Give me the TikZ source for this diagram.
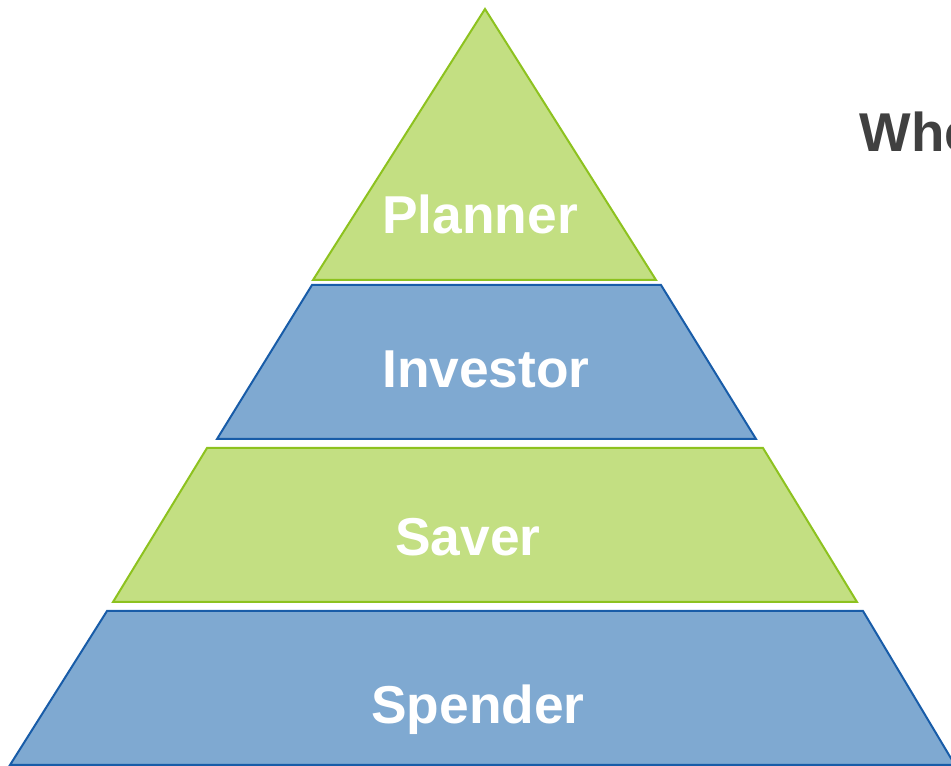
\documentclass[tikz,border=0pt]{standalone}
\usepackage{fontspec}
\setmainfont{Liberation Sans}

\tikzset{every picture/.style={line width=0.75pt}}
\tikzset{
  greenlayer/.style={draw={rgb, 255:red, 141; green, 194; blue, 31}, fill={rgb, 255:red, 195; green, 223; blue, 130}, line width=1.5},
  bluelayer/.style={draw={rgb, 255:red, 24; green, 92; blue, 168}, fill={rgb, 255:red, 127; green, 169; blue, 209}, line width=1.5},
  layertext/.style={anchor=base, inner sep=0.75pt, text=white, font=\fontsize{40}{48}\selectfont\bfseries}
}

\begin{document}
\begin{tikzpicture}[x=0.75pt,y=0.75pt,yscale=-1,xscale=1]
\clip (0,0) rectangle (951,766);

%Shape: Triangle [id:planner]
\draw [greenlayer]  (485,9) -- (656,280) -- (313,280) -- cycle ;
%Shape: Trapezoid [id:investor]
\draw [bluelayer]  (312,285) -- (661,285) -- (756,439) -- (217,439) -- cycle ;
%Shape: Trapezoid [id:saver]
\draw [greenlayer]  (207,448) -- (763,448) -- (857,602) -- (113,602) -- cycle ;
%Shape: Trapezoid [id:spender]
\draw [bluelayer]  (107,611) -- (863,611) -- (955,765) -- (10,765) -- cycle ;

% Text Node
\node (plannerlbl) [layertext] at (480,234) {Planner};
% Text Node
\node (investorlbl) [layertext] at (486,388) {Investor};
% Text Node
\node (saverlbl) [layertext] at (468,556) {Saver};
% Text Node
\node (spenderlbl) [layertext] at (478,724) {Spender};
% Text Node
\node (whelbl) [anchor=base west, inner sep=0.75pt, text={rgb, 255:red, 64; green, 64; blue, 64}, font=\fontsize{41}{49}\selectfont\bfseries] at (858,152) {Whe};
\end{tikzpicture}
\end{document}
